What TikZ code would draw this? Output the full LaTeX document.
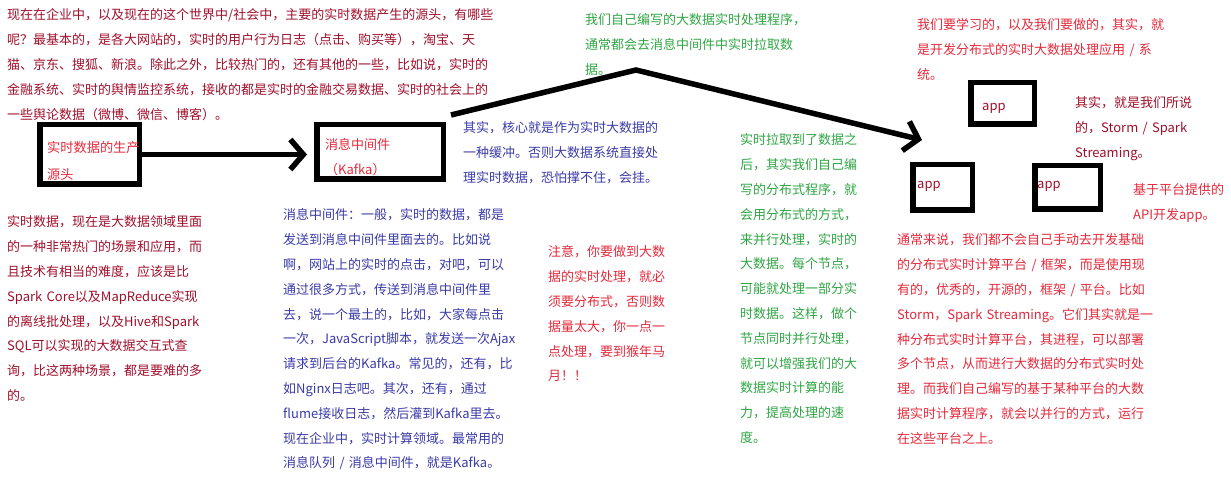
\documentclass[tikz,border=0pt]{standalone}
\usepackage{fontspec}
\setmainfont{Noto Sans CJK SC}
\usetikzlibrary{arrows.meta}
\definecolor{tdark}{HTML}{A0102C}
\definecolor{tred}{HTML}{E42A3C}
\definecolor{tblue}{HTML}{3B3BA8}
\definecolor{tgreen}{HTML}{2FA544}
\begin{document}
\begin{tikzpicture}[x=1pt,y=-1pt,
  txt/.style={inner sep=0pt, anchor=base west, align=left, text width=#1,
    font=\fontsize{13}{24.8}\selectfont},
  txt/.default=200pt,
  frame/.style={draw=black, line width=5.5pt, inner sep=0pt, fill=none},
  conn/.style={draw=black, line width=5.5pt,
    -{Straight Barb[length=13pt,width=30pt]}}]
\useasboundingbox (0,0) rectangle (1231,478);
\fill[white] (0,0) rectangle (1231,478);

% boxes
\node[frame, minimum width=99.5pt, minimum height=59.5pt] (src) at (89.5,154.5) {};
\node[frame, minimum width=126.5pt, minimum height=54.5pt] (kafka) at (380,152) {};
\node[frame, minimum width=63.5pt, minimum height=41.5pt] (appT) at (1002.5,103.5) {};
\node[frame, minimum width=59.5pt, minimum height=45.5pt] (appL) at (942.5,187.5) {};
\node[frame, minimum width=65.5pt, minimum height=43.5pt] (appR) at (1067.5,187.5) {};

% box labels
\node[txt=100pt, text=tred, font=\fontsize{13.2}{27}\selectfont] (srcT) at (47,153) {实时数据的生产\\源头};
\node[txt=110pt, text=tred] (kafkaT) at (325,150) {消息中间件\\（Kafka）};
\node[txt=40pt, text=tdark] (appTT) at (982,111) {app};
\node[txt=40pt, text=tdark] (appLT) at (917,189) {app};
\node[txt=40pt, text=tdark] (appRT) at (1037,189) {app};

% connectors
\coordinate (peak) at ([shift={(190,-52)}]kafka.north east);
\coordinate (tip2) at ([shift={(12,-22)}]appL.north west);
\draw[conn] (src.east) -- ([xshift=-7pt]src.east -| kafka.west);
\draw[conn] ([shift={(5,-7)}]kafka.north east) -- (peak) -- (tip2);

% text blocks
\node[txt=520pt, text=tdark] (intro) at (7,20) {现在在企业中，以及现在的这个世界中/社会中，主要的实时数据产生的源头，有哪些\\
呢？最基本的，是各大网站的，实时的用户行为日志（点击、购买等），淘宝、天\\
猫、京东、搜狐、新浪。除此之外，比较热门的，还有其他的一些，比如说，实时的\\
金融系统、实时的舆情监控系统，接收的都是实时的金融交易数据、实时的社会上的\\
一些舆论数据（微博、微信、博客）。};

\node[txt=250pt, text=tgreen] (pull) at (585,25) {我们自己编写的大数据实时处理程序，\\
通常都会去消息中间件中实时拉取数\\
据。};

\node[txt=300pt, text=tred] (goal) at (917,30) {我们要学习的，以及我们要做的，其实，就\\
是开发分布式的实时大数据处理应用 / 系\\
统。};

\node[txt=220pt, text=tblue] (buffer) at (463,133) {其实，核心就是作为实时大数据的\\
一种缓冲。否则大数据系统直接处\\
理实时数据，恐怕撑不住，会挂。};

\node[txt=270pt, text=tdark] (hard) at (7,227) {实时数据，现在是大数据领域里面\\
的一种非常热门的场景和应用，而\\
且技术有相当的难度，应该是比\\
Spark Core以及MapReduce实现\\
的离线批处理，以及Hive和Spark\\
SQL可以实现的大数据交互式查\\
询，比这两种场景，都是要难的多\\
的。};

\node[txt=250pt, text=tblue] (mq) at (283,220) {消息中间件：一般，实时的数据，都是\\
发送到消息中间件里面去的。比如说\\
啊，网站上的实时的点击，对吧，可以\\
通过很多方式，传送到消息中间件里\\
去，说一个最土的，比如，大家每点击\\
一次，JavaScript脚本，就发送一次Ajax\\
请求到后台的Kafka。常见的，还有，比\\
如Nginx日志吧。其次，还有，通过\\
flume接收日志，然后灌到Kafka里去。\\
现在企业中，实时计算领域。最常用的\\
消息队列 / 消息中间件，就是Kafka。};

\node[txt=140pt, text=tred] (note) at (548,257) {注意，你要做到大数\\
据的实时处理，就必\\
须要分布式，否则数\\
据量太大，你一点一\\
点处理，要到猴年马\\
月！！};

\node[txt=140pt, text=tgreen] (para) at (740,145) {实时拉取到了数据之\\
后，其实我们自己编\\
写的分布式程序，就\\
会用分布式的方式，\\
来并行处理，实时的\\
大数据。每个节点，\\
可能就处理一部分实\\
时数据。这样，做个\\
节点同时并行处理，\\
就可以增强我们的大\\
数据实时计算的能\\
力，提高处理的速\\
度。};

\node[txt=160pt, text=tdark] (storm) at (1075,108) {其实，就是我们所说\\
的，Storm / Spark\\
Streaming。};

\node[txt=110pt, text=tred] (api) at (1133,195) {基于平台提供的\\
API开发app。};

\node[txt=270pt, text=tred] (platform) at (897,245) {通常来说，我们都不会自己手动去开发基础\\
的分布式实时计算平台 / 框架，而是使用现\\
有的，优秀的，开源的，框架 / 平台。比如\\
Storm，Spark Streaming。它们其实就是一\\
种分布式实时计算平台，其进程，可以部署\\
多个节点，从而进行大数据的分布式实时处\\
理。而我们自己编写的基于某种平台的大数\\
据实时计算程序，就会以并行的方式，运行\\
在这些平台之上。};
\end{tikzpicture}
\end{document}
